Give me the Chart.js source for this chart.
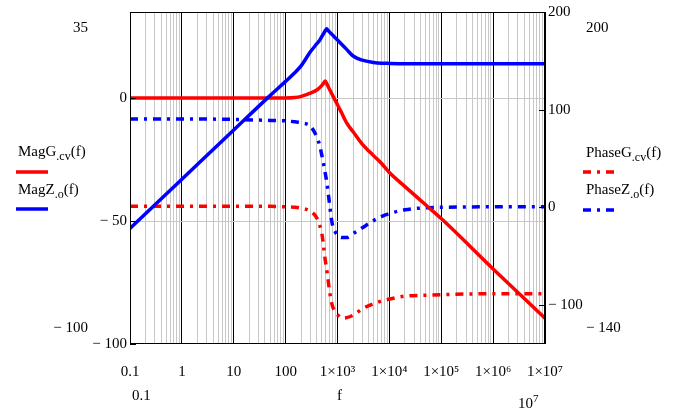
<!DOCTYPE html>
<html>
<head>
<meta charset="utf-8">
<script src="https://cdn.jsdelivr.net/npm/chart.js@4.4.1/dist/chart.umd.min.js"></script>
<style>
  body { margin: 0; background: #fff; }
  #wrap { position: relative; width: 692px; height: 411px; font-family: "Liberation Serif", "Times New Roman", serif; font-size: 15px; color: #000; }
  #wrap canvas { position: absolute; left: 0; top: 0; }
  .lbl { position: absolute; line-height: 15px; white-space: nowrap; }
  .lbl sub { font-size: 12px; vertical-align: -4px; }
  .lbl sup { font-size: 11px; vertical-align: 6px; }
  .key { position: absolute; }
</style>
</head>
<body>
<div id="wrap">
  <canvas id="bode" width="692" height="411"></canvas>

  <div class="lbl" style="left:73px; top:20px;">35</div>
  <div class="lbl" style="right:604px; top:320px;">&minus; 100</div>
  <div class="lbl" style="left:586px; top:20px;">200</div>
  <div class="lbl" style="left:586px; top:320px;">&minus; 140</div>

  <div class="lbl" style="left:132px; top:388px;">0.1</div>
  <div class="lbl" style="left:337px; top:388px;">f</div>
  <div class="lbl" style="left:518px; top:391px;">10<sup>7</sup></div>

  <div class="lbl" style="left:18px; top:144px;">MagG<sub>.cv</sub>(f)</div>
  <svg class="key" style="left:16px; top:166px;" width="34" height="12"><line x1="0" y1="6" x2="32" y2="6" stroke="#ff0000" stroke-width="3.5"/></svg>
  <div class="lbl" style="left:18px; top:182px;">MagZ<sub>.o</sub>(f)</div>
  <svg class="key" style="left:16px; top:203px;" width="34" height="12"><line x1="0" y1="6" x2="32" y2="6" stroke="#0000ff" stroke-width="3.5"/></svg>

  <div class="lbl" style="left:586px; top:145px;">PhaseG<sub>.cv</sub>(f)</div>
  <svg class="key" style="left:583px; top:166px;" width="34" height="12"><line x1="0" y1="6" x2="31" y2="6" stroke="#ff0000" stroke-width="3.5" stroke-dasharray="8 6 3 6"/></svg>
  <div class="lbl" style="left:586px; top:182px;">PhaseZ<sub>.o</sub>(f)</div>
  <svg class="key" style="left:583px; top:204px;" width="34" height="12"><line x1="0" y1="6" x2="31" y2="6" stroke="#0000ff" stroke-width="3.5" stroke-dasharray="8 6 3 6"/></svg>
</div>

<script>
// Frequency points (Hz)
const freq = [0.1, 1, 10, 50, 100, 150, 200, 300, 400, 450, 500, 550, 580, 620, 650, 700, 750, 800, 900, 1000,
  1200, 1500, 2000, 3000, 5000, 7000, 1e4, 2e4, 5e4, 1e5, 1e6, 1e7];

// Magnitudes (dB), left axis
const magG = [0, 0, 0, 0, 0, 0.2, 0.7, 2.0, 3.3, 4.2, 5.2, 6.3, 6.9, 5.9, 5.0, 3.6, 2.4, 1.2, -0.9, -2.7,
  -6.0, -10.1, -13.7, -18.7, -23.5, -26.5, -30.3, -36, -43.4, -49, -69.5, -89.5];
const magZ = [-53, -33, -13, 1, 6.8, 10.3, 13.2, 18.8, 22.1, 23.4, 25.1, 26.5, 27.4, 28.2, 27.6, 26.9, 26.3, 25.7, 24.5, 23.6,
  21.9, 19.8, 17.1, 15.4, 14.5, 14.2, 14.1, 14, 14, 14, 14, 14];

// Phases (deg), right axis
const phaseG = [1, 1, 1, 1, 0.5, 0, -1, -4, -11, -18, -27, -44, -54, -64, -72, -85, -95, -101, -107, -110,
  -113.5, -113, -110.5, -104, -98.7, -96, -94, -91, -90, -89.5, -88.5, -88.5];
const phaseZ = [90.5, 90.5, 90, 89, 88.5, 87.5, 86.5, 83, 72, 64, 53, 42, 35, 26, 18, 4, -9, -18, -25, -28.5,
  -31, -31, -27, -21, -13.5, -9.5, -6.5, -2.5, -0.5, 0, 0.5, 0.5];

// Axes
const xDecades = [0.1, 1, 10, 100, 1e3, 1e4, 1e5, 1e6, 1e7];
const xDecadeLabels = ['0.1', '1', '10', '100', '1×10³', '1×10⁴', '1×10⁵', '1×10⁶', '1×10⁷'];
const leftTicks = [-100, -50, 0];
const rightTicks = [-100, 0, 100, 200];

const pts = (vals) => freq.map((f, i) => ({ x: f, y: vals[i] }));
const isDecade = (v) => Math.abs(Math.log10(v) - Math.round(Math.log10(v))) < 1e-6;
const fmtNum = (v) => v < 0 ? '\u2212 ' + Math.abs(v) : String(v);
const FONT = { family: '"Liberation Serif", "Times New Roman", serif', size: 15 };

const frame = {
  id: 'frame',
  afterDraw(chart) {
    const { ctx, chartArea: a } = chart;
    ctx.save();
    ctx.strokeStyle = '#000';
    ctx.lineWidth = 1;
    ctx.strokeRect(a.left + 0.5, a.top + 0.5, a.right - a.left - 1, a.bottom - a.top - 1);
    // inward tick marks
    ctx.beginPath();
    chart.scales.y2.ticks.forEach(t => {
      const y = Math.round(chart.scales.y2.getPixelForValue(t.value)) + 0.5;
      ctx.moveTo(a.right - 6, y); ctx.lineTo(a.right, y);
    });
    chart.scales.y.ticks.forEach(t => {
      const y = Math.round(chart.scales.y.getPixelForValue(t.value)) + 0.5;
      ctx.moveTo(a.left, y); ctx.lineTo(a.left + 6, y);
    });
    ctx.stroke();
    ctx.restore();
  }
};

const lineOpts = { pointRadius: 0, borderWidth: 3.5, fill: false, cubicInterpolationMode: 'monotone' };

new Chart(document.getElementById('bode'), {
  type: 'line',
  data: {
    datasets: [
      { ...lineOpts, label: 'MagZ.o(f)', data: pts(magZ), borderColor: '#0000ff', yAxisID: 'y' },
      { ...lineOpts, label: 'MagG.cv(f)', data: pts(magG), borderColor: '#ff0000', yAxisID: 'y' },
      { ...lineOpts, label: 'PhaseZ.o(f)', data: pts(phaseZ), borderColor: '#0000ff', borderDash: [8, 6, 3, 6], yAxisID: 'y2' },
      { ...lineOpts, label: 'PhaseG.cv(f)', data: pts(phaseG), borderColor: '#ff0000', borderDash: [8, 6, 3, 6], yAxisID: 'y2' }
    ]
  },
  options: {
    responsive: false,
    animation: false,
    layout: { padding: { top: 7, left: 0, right: 0, bottom: 0 } },
    plugins: { legend: { display: false }, tooltip: { enabled: false } },
    scales: {
      x: {
        type: 'logarithmic',
        min: 0.1,
        max: 1e7,
        afterBuildTicks: (scale) => {
          const t = [];
          for (let d = 0; d < xDecades.length - 1; d++) {
            for (let k = 1; k <= 9; k++) t.push({ value: xDecades[d] * k });
          }
          t.push({ value: xDecades[xDecades.length - 1] });
          scale.ticks = t;
        },
        afterFit: (scale) => { scale.height = 67; },
        grid: {
          drawTicks: false,
          color: (c) => (c.tick && isDecade(c.tick.value)) ? '#000' : '#c8c8c8',
          lineWidth: 1
        },
        border: { display: false },
        ticks: {
          autoSkip: false,
          maxRotation: 0,
          padding: 19,
          color: '#000',
          font: FONT,
          callback: (v) => isDecade(v) ? xDecadeLabels[Math.round(Math.log10(v)) + 1] : ''
        }
      },
      y: {
        position: 'left',
        min: -100,
        max: 35,
        afterBuildTicks: (scale) => { scale.ticks = leftTicks.map(v => ({ value: v })); },
        afterFit: (scale) => { scale.width = 130; },
        grid: {
          drawTicks: false,
          color: (c) => (c.tick && (c.tick.value === 0 || c.tick.value === -50)) ? '#c8c8c8' : 'rgba(0,0,0,0)'
        },
        border: { display: false },
        ticks: { padding: 3, color: '#000', font: FONT, callback: fmtNum }
      },
      y2: {
        position: 'right',
        min: -140,
        max: 200,
        afterBuildTicks: (scale) => { scale.ticks = rightTicks.map(v => ({ value: v })); },
        afterFit: (scale) => { scale.width = 147; },
        grid: { display: false, drawTicks: false },
        border: { display: false },
        ticks: { padding: 3, color: '#000', font: FONT, callback: fmtNum }
      }
    }
  },
  plugins: [frame]
});
</script>
</body>
</html>
